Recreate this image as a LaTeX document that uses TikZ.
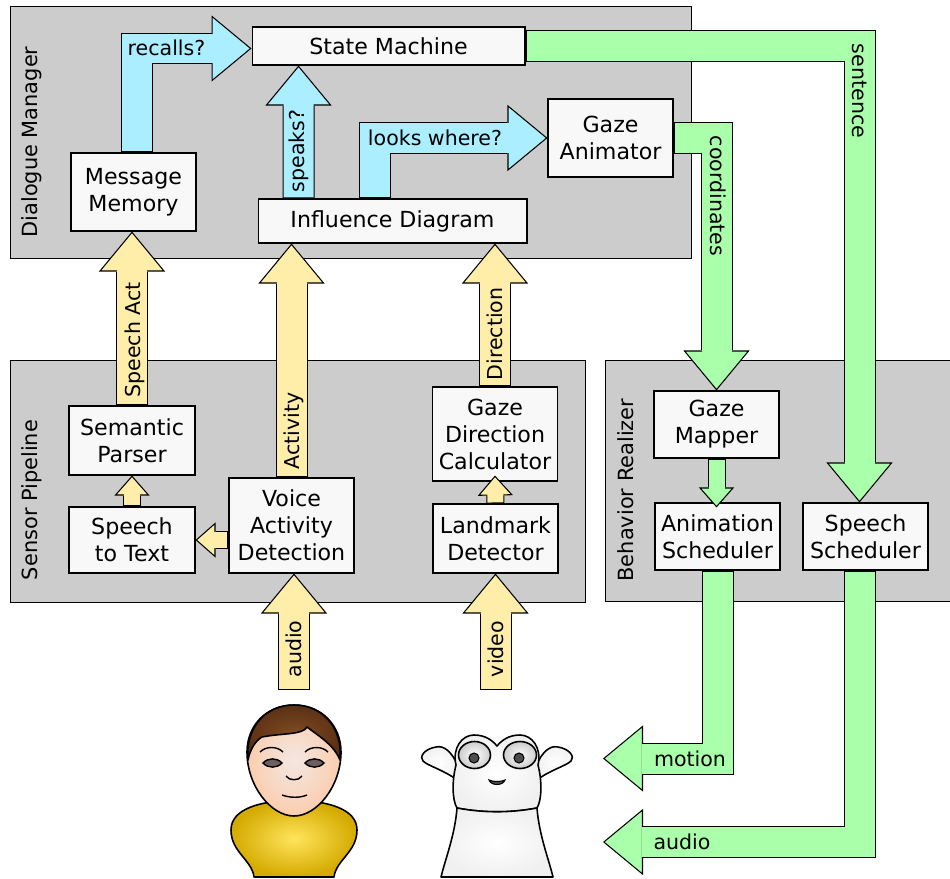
\documentclass[tikz,border=0pt]{standalone}
\usepackage{fontspec}
\setmainfont{DejaVu Sans}
\usetikzlibrary{arrows.meta,calc}

\definecolor{panelgray}{HTML}{CCCCCC}
\definecolor{boxfill}{HTML}{F8F8F8}
\definecolor{askblue}{HTML}{AAEEFF}
\definecolor{actgreen}{HTML}{AAFFAA}
\definecolor{senseyellow}{HTML}{FFEEAA}
\definecolor{skinlight}{HTML}{F3E7E2}
\definecolor{skindark}{HTML}{FBCDAE}
\definecolor{hairlight}{HTML}{7E4A22}
\definecolor{hairdark}{HTML}{5A3014}
\definecolor{shirtlight}{HTML}{FFE45C}
\definecolor{shirtdark}{HTML}{D4AA00}
\definecolor{eyebrown}{HTML}{6E5F5F}
\definecolor{robotgray}{HTML}{F0F0F0}
\definecolor{pupilgray}{HTML}{4D4D4D}

\pgfdeclarelayer{panels}
\pgfdeclarelayer{flows}
\pgfsetlayers{panels,flows,main}

\tikzset{
  panel/.style={draw, fill=panelgray, line width=0.6pt, anchor=north west, inner sep=0pt},
  panellabel/.style={rotate=90, inner sep=0pt, font=\fontsize{11.9}{14}\selectfont},
  module/.style={draw, fill=boxfill, line width=0.6pt, align=center, inner sep=0pt,
    minimum width=2.5cm, font=\fontsize{12.6}{15.4}\selectfont},
  flowlabel/.style={inner sep=0pt, font=\fontsize{11.7}{14}\selectfont},
  % block arrows: outlined head, black rim, coloured body
  fat tip/.style={draw=black, line width=0.6pt, -{Triangle[length=0.8cm, width=1.32cm, fill=#1]}},
  fat rim/.style={draw=black, line width=0.64cm, line join=miter, shorten >=0.8cm},
  fat body/.style={draw=#1, line width=0.6cm, line join=miter, shorten >=0.77cm, shorten <=0.6pt},
  slim tip/.style={draw=black, line width=0.6pt, -{Triangle[length=0.4cm, width=0.7cm, fill=#1]}},
  slim rim/.style={draw=black, line width=0.36cm, line join=miter, shorten >=0.4cm},
  slim body/.style={draw=#1, line width=0.32cm, line join=miter, shorten >=0.37cm, shorten <=0.6pt},
  figure/.style={line width=0.9pt, line join=round}
}

\newcommand\fatarrow[2]{%
  \draw[fat tip=#1] #2;
  \draw[fat rim] #2;
  \draw[fat body=#1] #2;}
\newcommand\slimarrow[2]{%
  \draw[slim tip=#1] #2;
  \draw[slim rim] #2;
  \draw[slim body=#1] #2;}

\begin{document}
\begin{tikzpicture}[x=0.02cm, y=-0.02cm]
\useasboundingbox (0,0) rectangle (950,879);

% the three subsystems
\begin{pgfonlayer}{panels}
\node[panel, minimum width=13.62cm, minimum height=5.04cm] (dm) at (10,6) {};
\node[panel, minimum width=11.5cm, minimum height=4.84cm] (sensors) at (10,360) {};
\node[panel, minimum width=7.2cm, minimum height=4.82cm] (realizer) at (605,360) {};
\end{pgfonlayer}
\node[panellabel] (dmlabel) at (32,142) {Dialogue Manager};
\node[panellabel] (sensorslabel) at (32,500) {Sensor Pipeline};
\node[panellabel] (realizerlabel) at (626,490) {Behavior Realizer};

% dialogue manager
\node[module, minimum width=5.46cm, minimum height=0.76cm] (sm) at (388.5,46) {State Machine};
\node[module, minimum height=1.56cm] (mm) at (133.5,192) {Message\\Memory};
\node[module, minimum width=5.38cm, minimum height=0.88cm] (infl) at (392.5,221) {Influence Diagram};
\node[module, minimum height=1.56cm] (ga) at (610.5,138) {Gaze\\Animator};

% sensor pipeline
\node[module, minimum width=2.52cm, minimum height=1.38cm] (sp) at (132,440.5) {Semantic\\Parser};
\node[module, minimum width=2.52cm, minimum height=1.32cm] (stt) at (132,540) {Speech\\to Text};
\node[module, minimum height=1.9cm] (vad) at (291.5,525.5) {Voice\\Activity\\Detection};
\node[module, minimum height=1.88cm] (gdc) at (495,434) {Gaze\\Direction\\Calculator};
\node[module, minimum height=1.38cm] (ld) at (495.5,538.5) {Landmark\\Detector};

% behavior realizer
\node[module, minimum height=1.34cm] (gm) at (716.5,424.5) {Gaze\\Mapper};
\node[module, minimum height=1.34cm] (as) at (717.5,536.5) {Animation\\Scheduler};
\node[module, minimum height=1.34cm] (ss) at (865.5,536.5) {Speech\\Scheduler};

\coordinate (micin) at (294,690);
\coordinate (camin) at (495.5,690);
\coordinate (motionend) at (603,758.5);
\coordinate (audioend) at (603,842);

\begin{pgfonlayer}{flows}
% questions inside the dialogue manager
\fatarrow{askblue}{([xshift=0.07cm]mm.north) |- ([yshift=-0.05cm]sm.west)}
\fatarrow{askblue}{([xshift=-1.88cm]infl.north) -- ([xshift=-1.8cm]sm.south)}
\fatarrow{askblue}{([xshift=-0.35cm]infl.north) |- (ga.west)}
% behaviour
\fatarrow{actgreen}{(sm.east) -| ([xshift=-0.12cm]ss.north)}
\fatarrow{actgreen}{(ga.east) -| (gm.north)}
\fatarrow{actgreen}{(as.south) |- (motionend)}
\fatarrow{actgreen}{([xshift=-0.12cm]ss.south) |- (audioend)}
% sensing
\fatarrow{senseyellow}{(sp.north) -- (sp.north |- mm.south)}
\fatarrow{senseyellow}{(vad.north) -- (vad.north |- infl.south)}
\fatarrow{senseyellow}{(gdc.north) -- (gdc.north |- infl.south)}
\slimarrow{senseyellow}{(stt.north) -- (sp.south)}
\slimarrow{senseyellow}{(vad.west |- stt.east) -- (stt.east)}
\fatarrow{senseyellow}{(micin) -- (micin |- vad.south)}
\fatarrow{senseyellow}{(camin) -- (camin |- ld.south)}
\end{pgfonlayer}

% these two tips reach over the box edge
\slimarrow{actgreen}{(gm.south) -- ([yshift=-0.1cm]gm.south |- as.north)}
\slimarrow{senseyellow}{(ld.north) -- ([yshift=0.12cm]gdc.south)}

% arrow labels
\node[flowlabel] (recalls) at (166.5,48) {recalls?};
\node[flowlabel, rotate=90] (speaks) at (298.5,151) {speaks?};
\node[flowlabel] (looks) at (435,138) {looks where?};
\node[flowlabel, rotate=-90] (sentence) at (859.5,91) {sentence};
\node[flowlabel, rotate=-90] (coords) at (718,196) {coordinates};
\node[flowlabel] (motion) at (690,759) {motion};
\node[flowlabel] (audioout) at (682,842) {audio};
\node[flowlabel, rotate=90] (speechact) at (134.5,340) {Speech Act};
\node[flowlabel, rotate=90] (activity) at (294,431) {Activity};
\node[flowlabel, rotate=90] (direction) at (495,334) {Direction};
\node[flowlabel, rotate=90] (audioin) at (294,649) {audio};
\node[flowlabel, rotate=90] (videoin) at (495.5,649) {video};

% the person
\shadedraw[figure, inner color=shirtlight, outer color=shirtdark]
  (254,877) .. controls (252,860) and (231,852) .. (231,830)
  .. controls (231,808) and (262,801) .. (294,800)
  .. controls (326,801) and (357,808) .. (357,830)
  .. controls (357,852) and (336,860) .. (334,877) -- cycle;
\shadedraw[figure, inner color=skinlight, outer color=skindark]
  (294,705) .. controls (322,705) and (341,726) .. (341,752)
  .. controls (341,786) and (317,816) .. (294,816)
  .. controls (271,816) and (247,786) .. (247,752)
  .. controls (247,726) and (266,705) .. (294,705) -- cycle;
\shadedraw[figure, inner color=hairlight, outer color=hairdark]
  (248,760) .. controls (245,727) and (266,705) .. (294,705)
  .. controls (322,705) and (343,727) .. (340,760)
  .. controls (334,745) and (320,737) .. (307,727)
  .. controls (303,735) and (282,733) .. (262,737)
  .. controls (255,741) and (250,750) .. (248,760) -- cycle;
\draw[line width=0.8pt] (260,752) .. controls (266,746) and (277,746) .. (283,752);
\draw[line width=0.8pt] (305,752) .. controls (311,746) and (322,746) .. (328,752);
\filldraw[fill=eyebrown, line width=0.8pt]
  (263,763) .. controls (268,757.5) and (277,757.5) .. (282,763)
  .. controls (277,768.5) and (268,768.5) .. (263,763) -- cycle;
\filldraw[fill=eyebrown, line width=0.8pt]
  (305,763) .. controls (310,757.5) and (319,757.5) .. (324,763)
  .. controls (319,768.5) and (310,768.5) .. (305,763) -- cycle;
\draw[line width=0.8pt] (286,776) .. controls (289,781) and (299,781) .. (302,776);
\draw[line width=0.8pt] (282,795) .. controls (290,798) and (300,798) .. (307,795);

% the robot
\shadedraw[figure, inner color=white, outer color=robotgray]
  (458,766) .. controls (452,752) and (444,745) .. (436,747)
  .. controls (424,749) and (419,757) .. (423,761)
  .. controls (428,766) and (444,770) .. (457,780) -- cycle;
\shadedraw[figure, inner color=white, outer color=robotgray]
  (536,766) .. controls (542,752) and (550,745) .. (558,747)
  .. controls (570,749) and (575,757) .. (571,761)
  .. controls (566,766) and (550,770) .. (537,780) -- cycle;
\shadedraw[figure, inner color=white, outer color=robotgray]
  (457,808) .. controls (452,800) and (452,780) .. (456,765)
  .. controls (452,748) and (462,735) .. (474,735)
  .. controls (485,735) and (492,740) .. (497,746)
  .. controls (502,740) and (509,735) .. (520,735)
  .. controls (532,735) and (542,748) .. (538,765)
  .. controls (542,780) and (542,800) .. (537,808)
  .. controls (510,813) and (484,813) .. (457,808) -- cycle;
\shadedraw[figure, inner color=white, outer color=robotgray]
  (457,808) .. controls (455,835) and (445,860) .. (441,877) -- (553,877)
  .. controls (549,860) and (539,835) .. (537,808)
  .. controls (510,813) and (484,813) .. (457,808) -- cycle;
\shadedraw[figure, inner color=white, outer color=robotgray!85!black]
  (474.5,755) ellipse [x radius=0.32cm, y radius=0.27cm];
\shadedraw[figure, inner color=white, outer color=robotgray!85!black]
  (520,755) ellipse [x radius=0.33cm, y radius=0.27cm];
\filldraw[fill=pupilgray, line width=0.6pt] (474,758) circle [radius=0.1cm];
\filldraw[fill=pupilgray, line width=0.6pt] (519,758) circle [radius=0.1cm];
\filldraw[fill=pupilgray, line width=0.6pt]
  (489,780) .. controls (493,782) and (501,782) .. (505,780)
  .. controls (503,786) and (491,786) .. (489,780) -- cycle;
\end{tikzpicture}
\end{document}
